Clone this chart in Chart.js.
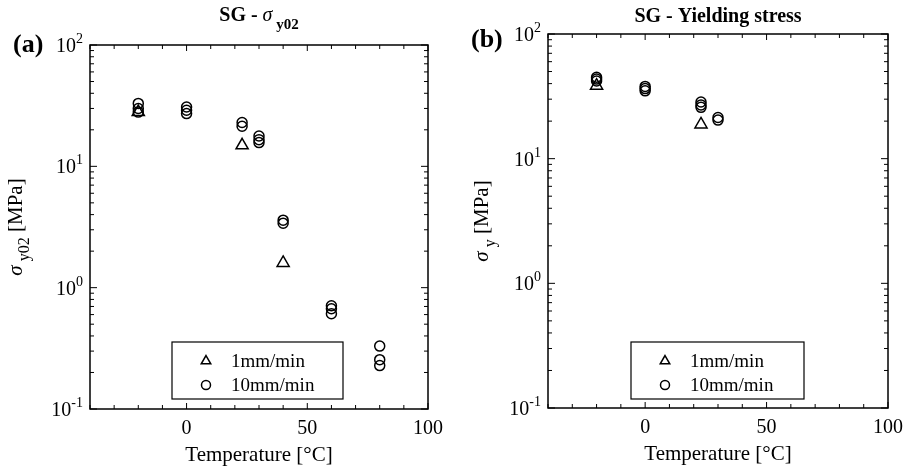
<!DOCTYPE html>
<html>
<head>
<meta charset="utf-8">
<script src="https://cdn.jsdelivr.net/npm/chart.js@4.4.1/dist/chart.umd.min.js"></script>
<style>
  body { margin: 0; background: #fff; width: 914px; height: 468px; overflow: hidden; position: relative; }
  canvas { position: absolute; top: 0; }
  #chartA { left: 0; }
  #chartB { left: 457px; }
</style>
</head>
<body>
<canvas id="chartA" width="457" height="468"></canvas>
<canvas id="chartB" width="457" height="468"></canvas>
<script>
// axis ticks
const xTickLabels = [0, 50, 100];
const yDecades = [-1, 0, 1, 2];
const seriesNames = ["1mm/min", "10mm/min"];

// (a) SG - sigma_y02
const a_slowTemp = [-20, 23, 40];
const a_slowSig  = [28, 14.9, 1.6];
const a_fastTemp = [-20, -20, -20, 0, 0, 0, 23, 23, 30, 30, 30, 40, 40, 60, 60, 60, 80, 80, 80];
const a_fastSig  = [33, 30, 28, 30.8, 29, 27.2, 23, 21.4, 17.8, 16.6, 15.7, 3.6, 3.4, 0.71, 0.67, 0.61, 0.33, 0.255, 0.228];

// (b) SG - Yielding stress
const b_slowTemp = [-20, 23];
const b_slowSig  = [38.5, 18.8];
const b_fastTemp = [-20, -20, -20, 0, 0, 0, 23, 23, 23, 30, 30];
const b_fastSig  = [45, 43.5, 42, 38, 36.5, 35, 28.5, 27, 25.8, 21.4, 20.4];

const FONT = '"Liberation Serif", "Times New Roman", serif';

function pts(xs, ys) {
  return xs.map((x, i) => ({ x: x, y: ys[i] }));
}

// draws a sequence of text pieces (for sub/superscripts)
function richText(ctx, parts, x, y, align) {
  let total = 0;
  parts.forEach(p => { ctx.font = p.font; p.w = ctx.measureText(p.t).width; total += p.w; });
  let cx = align === "center" ? x - total / 2 : (align === "right" ? x - total : x);
  ctx.textAlign = "left";
  ctx.textBaseline = "alphabetic";
  parts.forEach(p => {
    ctx.font = p.font;
    ctx.fillText(p.t, cx, y + (p.dy || 0));
    cx += p.w;
  });
}

function makePanel(id, cfg) {
  const axesPlugin = {
    id: "matlabAxes",
    afterDraw(chart) {
      const ctx = chart.ctx;
      const area = chart.chartArea;
      const xs = chart.scales.x, ys = chart.scales.y;
      ctx.save();
      ctx.strokeStyle = "#000";
      ctx.fillStyle = "#000";
      ctx.lineWidth = 1.5;
      ctx.strokeRect(area.left, area.top, area.right - area.left, area.bottom - area.top);

      // x ticks (inward, bottom and top)
      ctx.lineWidth = 1;
      ctx.beginPath();
      for (let v = -40; v <= 100; v += 10) {
        const px = xs.getPixelForValue(v);
        const len = (v % 50 === 0) ? 6 : 4;
        ctx.moveTo(px, area.bottom); ctx.lineTo(px, area.bottom - len);
        ctx.moveTo(px, area.top); ctx.lineTo(px, area.top + len);
      }
      // y ticks (log)
      yDecades.forEach(d => {
        for (let m = 1; m <= 9; m++) {
          const v = m * Math.pow(10, d);
          if (v > 100.001) break;
          const py = ys.getPixelForValue(v);
          const len = m === 1 ? 7 : 4;
          ctx.moveTo(area.left, py); ctx.lineTo(area.left + len, py);
          ctx.moveTo(area.right, py); ctx.lineTo(area.right - len, py);
        }
      });
      ctx.stroke();

      // tick labels
      xTickLabels.forEach(v => {
        ctx.font = "20px " + FONT;
        ctx.textAlign = "center";
        ctx.textBaseline = "alphabetic";
        ctx.fillText(String(v), xs.getPixelForValue(v), area.bottom + 25);
      });
      yDecades.forEach(d => {
        const py = ys.getPixelForValue(Math.pow(10, d));
        richText(ctx, [
          { t: "10", font: "20px " + FONT, dy: 7 },
          { t: String(d), font: "14px " + FONT, dy: -2 }
        ], area.left - 7, py, "right");
      });

      // axis titles
      const midX = (area.left + area.right) / 2;
      ctx.font = "21px " + FONT;
      ctx.textAlign = "center";
      ctx.fillText("Temperature [°C]", midX, area.bottom + 52);

      ctx.save();
      ctx.translate(cfg.yLabelX, (area.top + area.bottom) / 2);
      ctx.rotate(-Math.PI / 2);
      richText(ctx, [
        { t: "σ", font: "italic 21px " + FONT, dy: 0 },
        { t: " " + cfg.ySub, font: "16px " + FONT, dy: 7 },
        { t: " [MPa]", font: "21px " + FONT, dy: 0 }
      ], 0, 0, "center");
      ctx.restore();

      // title
      richText(ctx, cfg.title, midX, cfg.titleY, "center");

      // panel letter
      ctx.font = "bold 26px " + FONT;
      ctx.textAlign = "left";
      ctx.fillText(cfg.letter, cfg.letterX, cfg.letterY);

      // legend
      const lg = cfg.legend;
      ctx.fillStyle = "#fff";
      ctx.fillRect(lg.x, lg.y, lg.w, lg.h);
      ctx.lineWidth = 1.2;
      ctx.strokeRect(lg.x, lg.y, lg.w, lg.h);
      const styles = [{ pointStyle: "triangle", radius: 5.5 }, { pointStyle: "circle", radius: 4.5 }];
      seriesNames.forEach((name, i) => {
        const ry = lg.y + 19 + i * 24;
        ctx.lineWidth = 1.5;
        ctx.strokeStyle = "#000";
        ctx.fillStyle = "rgba(0,0,0,0)";
        Chart.helpers.drawPoint(ctx, { pointStyle: styles[i].pointStyle, radius: styles[i].radius, rotation: 0, borderWidth: 1.5 }, lg.x + 34, ry);
        ctx.fillStyle = "#000";
        ctx.font = "19px " + FONT;
        ctx.textAlign = "left";
        ctx.textBaseline = "middle";
        ctx.fillText(name, lg.x + 59, ry + 1);
      });
      ctx.restore();
    }
  };

  return new Chart(document.getElementById(id), {
    type: "scatter",
    data: {
      datasets: [
        {
          label: seriesNames[0],
          data: pts(cfg.slowT, cfg.slowS),
          pointStyle: "triangle",
          pointRadius: 7,
          borderColor: "#000",
          backgroundColor: "rgba(0,0,0,0)",
          borderWidth: 1.5
        },
        {
          label: seriesNames[1],
          data: pts(cfg.fastT, cfg.fastS),
          pointStyle: "circle",
          pointRadius: 5,
          borderColor: "#000",
          backgroundColor: "rgba(0,0,0,0)",
          borderWidth: 1.5
        }
      ]
    },
    options: {
      responsive: false,
      animation: false,
      devicePixelRatio: 1,
      layout: { padding: cfg.padding },
      plugins: { legend: { display: false }, tooltip: { enabled: false } },
      scales: {
        x: { type: "linear", min: -40, max: 100, display: false },
        y: { type: "logarithmic", min: 0.1, max: 100, display: false }
      }
    },
    plugins: [axesPlugin]
  });
}

makePanel("chartA", {
  slowT: a_slowTemp, slowS: a_slowSig, fastT: a_fastTemp, fastS: a_fastSig,
  padding: { left: 90, right: 29, top: 45, bottom: 59 },
  ySub: "y02",
  yLabelX: 22,
  titleY: 21,
  title: [
    { t: "SG - ", font: "bold 20px " + FONT },
    { t: "σ", font: "italic 20px " + FONT },
    { t: " y02", font: "bold 15px " + FONT, dy: 8 }
  ],
  letter: "(a)", letterX: 13, letterY: 52,
  legend: { x: 172, y: 342, w: 171, h: 57 }
});

makePanel("chartB", {
  slowT: b_slowTemp, slowS: b_slowSig, fastT: b_fastTemp, fastS: b_fastSig,
  padding: { left: 91, right: 26, top: 34, bottom: 60 },
  ySub: "y",
  yLabelX: 31,
  titleY: 22,
  title: [
    { t: "SG - Yielding stress", font: "bold 20px " + FONT }
  ],
  letter: "(b)", letterX: 14, letterY: 47,
  legend: { x: 174, y: 342, w: 173, h: 57 }
});
</script>
</body>
</html>
